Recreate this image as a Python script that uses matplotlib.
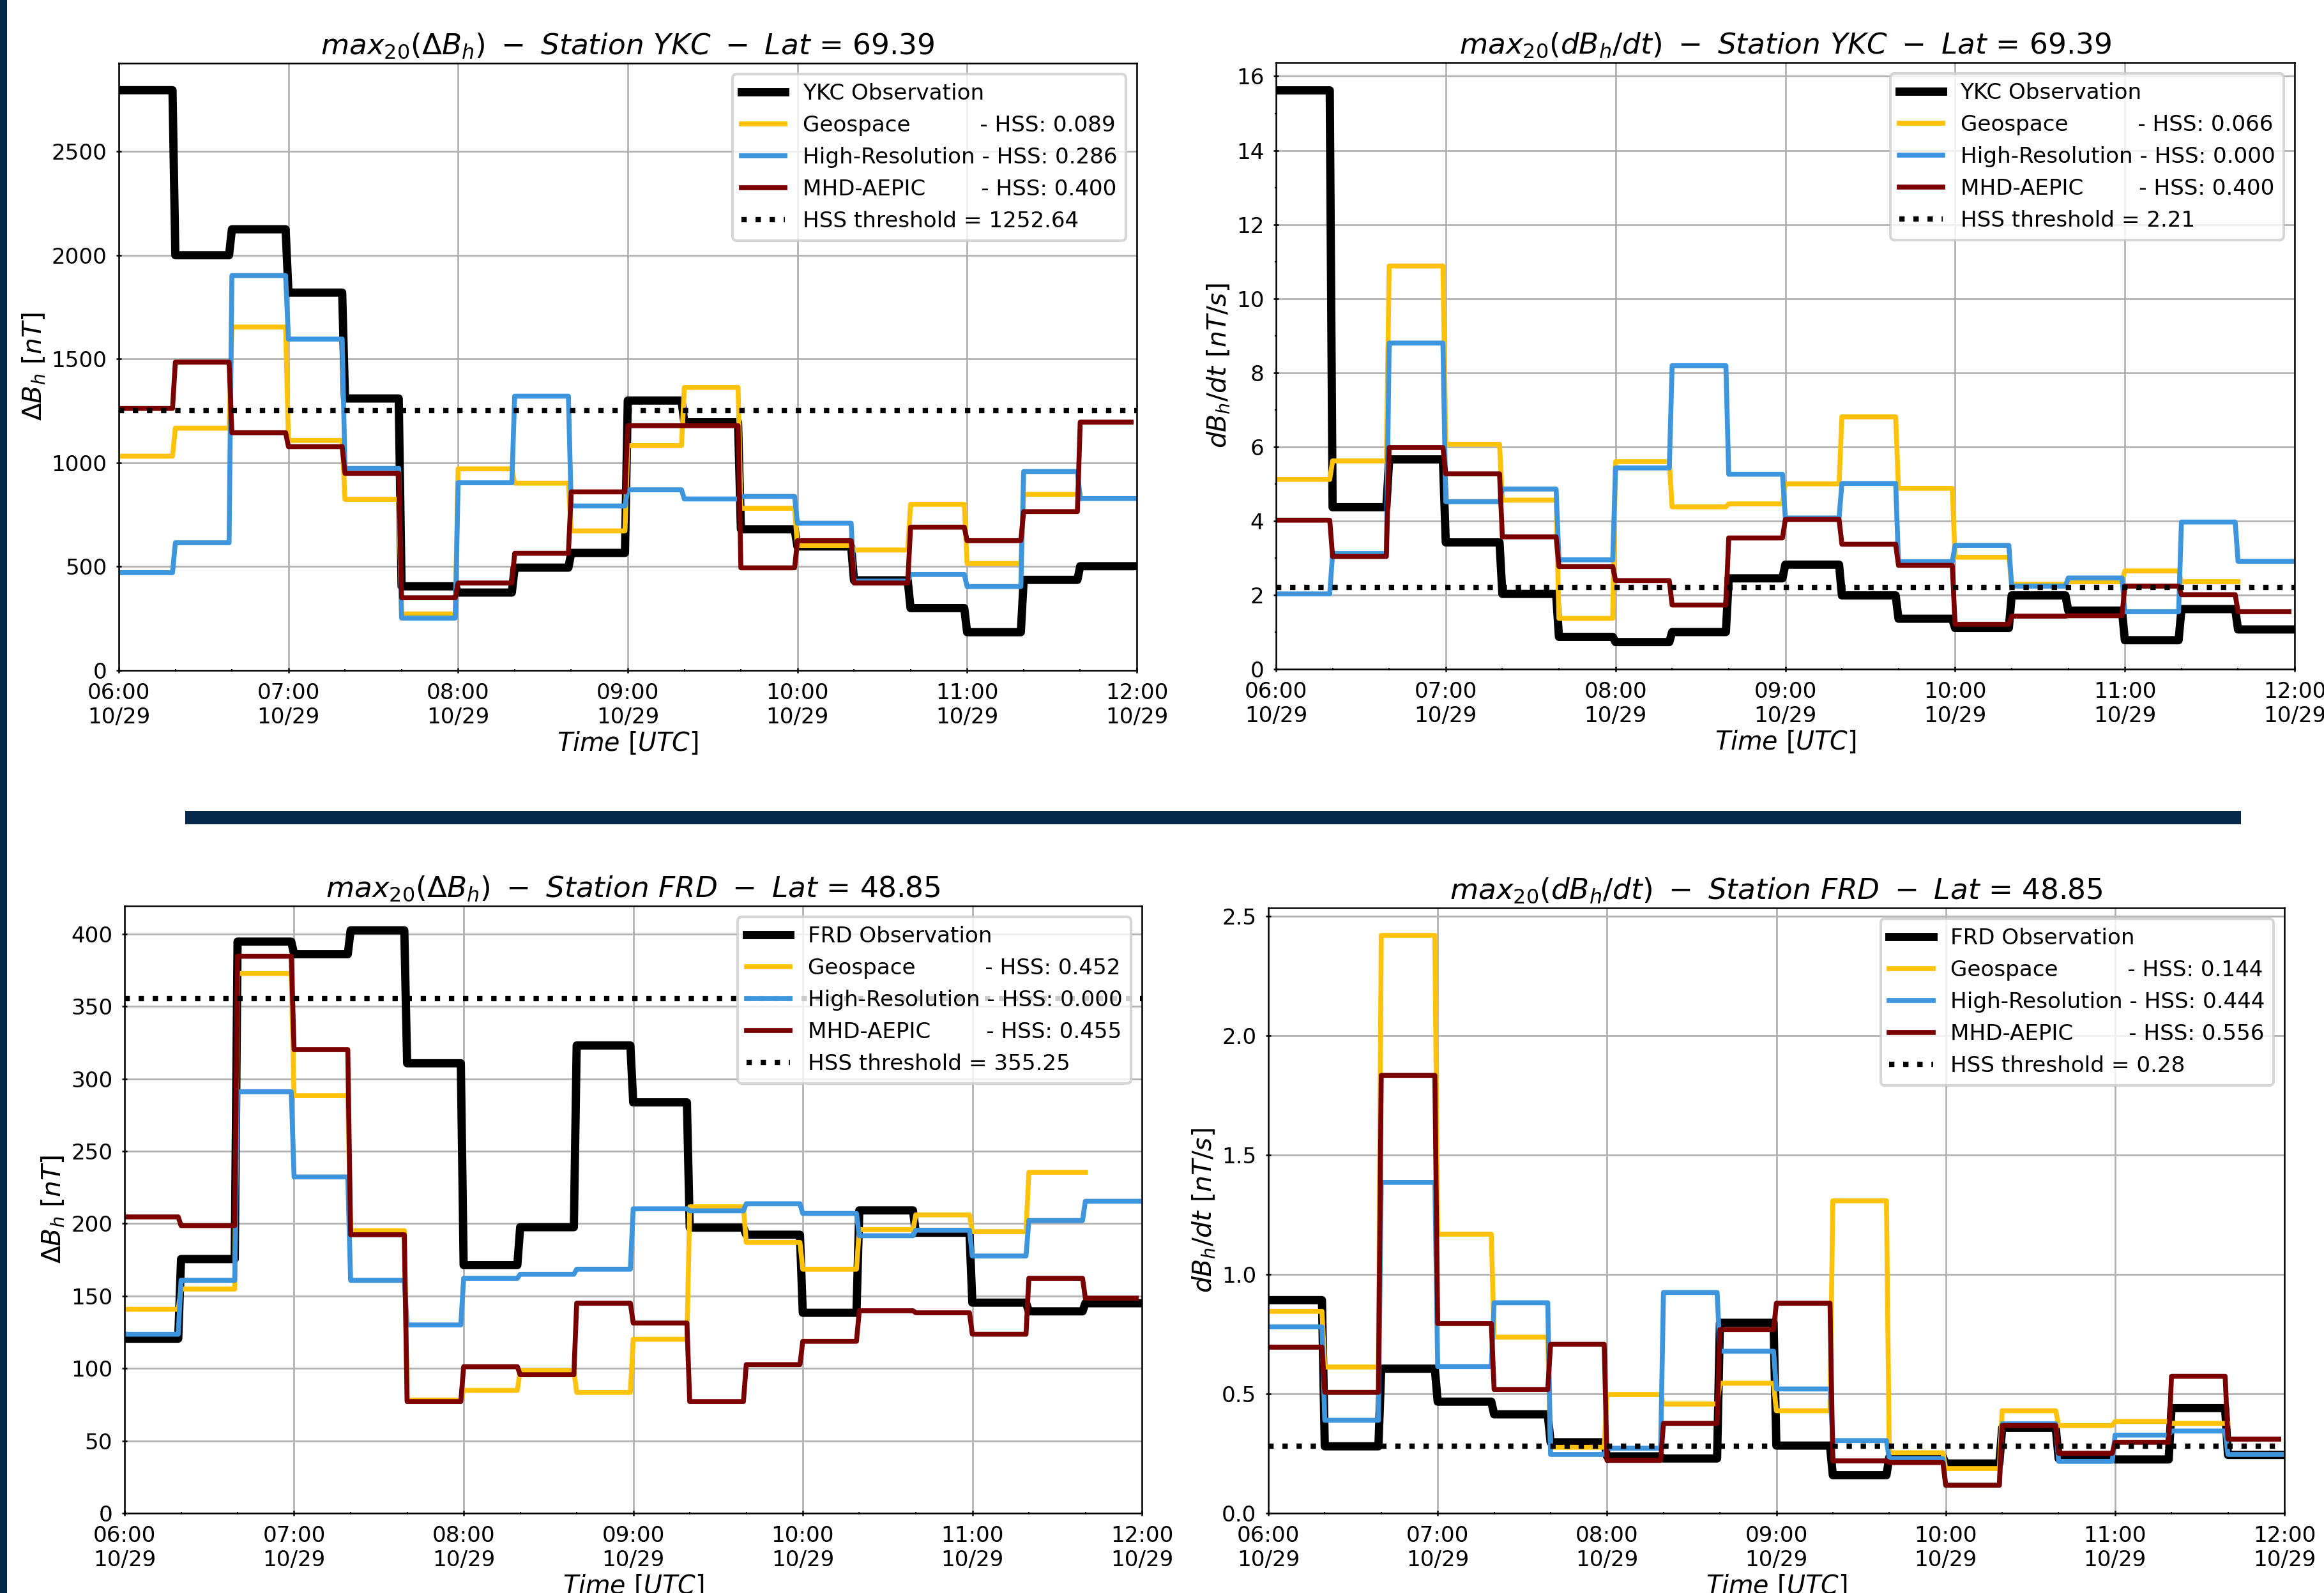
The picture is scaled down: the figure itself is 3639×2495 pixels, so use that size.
import datetime as dt
import matplotlib
matplotlib.use("Agg")
import matplotlib.pyplot as plt
import matplotlib.dates as mdates
from matplotlib.patches import Rectangle
from matplotlib.ticker import MultipleLocator

# ---------------- data (20-minute maxima, 06:00-12:00 UTC, 2003-10-29) ----------------
START = dt.datetime(2003, 10, 29, 6, 0)
STEP_MIN = 20

# Station YKC, max20(dBh)  [nT]
ykc_dbh_obs = [2795, 2000, 2125, 1820, 1310, 405, 375, 495, 566, 1300, 1195, 680, 597, 434, 300, 184, 436, 502]
ykc_dbh_geo = [1032, 1167, 1654, 1108, 824, 272, 971, 902, 672, 1083, 1363, 781, 602, 580, 800, 515, 848]
ykc_dbh_hr = [471, 615, 1902, 1596, 973, 252, 904, 1321, 792, 870, 826, 838, 709, 430, 462, 404, 958, 828]
ykc_dbh_aepic = [1262, 1485, 1145, 1078, 949, 350, 421, 564, 860, 1179, 1179, 494, 625, 421, 690, 625, 765, 1196]
ykc_dbh_thr = 1252.64
ykc_dbh_hss = ["0.089", "0.286", "0.400"]

# Station YKC, max20(dBh/dt)  [nT/s]
ykc_dbdt_obs = [15.62, 4.37, 5.66, 3.42, 2.03, 0.87, 0.73, 1.00, 2.45, 2.82, 1.99, 1.36, 1.11, 1.99, 1.58, 0.78, 1.62, 1.07]
ykc_dbdt_geo = [5.12, 5.62, 10.88, 6.07, 4.56, 1.37, 5.60, 4.38, 4.46, 5.00, 6.81, 4.88, 3.02, 2.29, 2.36, 2.65, 2.36]
ykc_dbdt_hr = [2.03, 3.12, 8.80, 4.52, 4.86, 2.95, 5.43, 8.19, 5.26, 4.08, 5.01, 2.90, 3.34, 2.24, 2.46, 1.55, 3.97, 2.91]
ykc_dbdt_aepic = [4.02, 3.04, 5.98, 5.27, 3.57, 2.77, 2.39, 1.73, 3.54, 4.04, 3.37, 2.80, 1.21, 1.43, 1.44, 2.24, 2.01, 1.55]
ykc_dbdt_thr = 2.21
ykc_dbdt_hss = ["0.066", "0.000", "0.400"]

# Station FRD, max20(dBh)  [nT]
frd_dbh_obs = [120.5, 175.5, 394.7, 386.0, 402.5, 310.7, 171.3, 197.5, 323.0, 283.7, 197.2, 192.3, 138.4, 209.1, 193.7, 145.4, 139.4, 145.0]
frd_dbh_geo = [140.8, 154.8, 372.7, 288.3, 195.1, 78.1, 84.8, 98.4, 83.4, 120.1, 211.6, 187.0, 168.5, 195.8, 206.0, 194.4, 235.4]
frd_dbh_hr = [123.6, 160.8, 291.0, 232.2, 160.8, 130.0, 162.2, 165.0, 168.5, 210.2, 208.8, 213.7, 207.0, 191.6, 195.4, 177.6, 202.1, 215.4]
frd_dbh_aepic = [204.6, 198.6, 384.6, 320.1, 192.3, 77.1, 101.2, 95.6, 145.0, 131.3, 77.1, 102.6, 118.7, 139.8, 138.4, 123.6, 162.2, 148.5]
frd_dbh_thr = 355.25
frd_dbh_hss = ["0.452", "0.000", "0.455"]

# Station FRD, max20(dBh/dt)  [nT/s]
frd_dbdt_obs = [0.892, 0.280, 0.605, 0.467, 0.414, 0.297, 0.238, 0.229, 0.797, 0.283, 0.159, 0.234, 0.208, 0.357, 0.229, 0.225, 0.440, 0.244]
frd_dbdt_geo = [0.845, 0.612, 2.419, 1.168, 0.737, 0.276, 0.497, 0.457, 0.544, 0.429, 1.308, 0.253, 0.187, 0.429, 0.367, 0.384, 0.376]
frd_dbdt_hr = [0.780, 0.389, 1.385, 0.614, 0.881, 0.246, 0.272, 0.924, 0.678, 0.520, 0.304, 0.229, 0.117, 0.374, 0.217, 0.327, 0.344, 0.246]
frd_dbdt_aepic = [0.695, 0.506, 1.833, 0.794, 0.518, 0.707, 0.221, 0.376, 0.769, 0.879, 0.219, 0.212, 0.117, 0.367, 0.251, 0.297, 0.573, 0.310]
frd_dbdt_thr = 0.28
frd_dbdt_hss = ["0.144", "0.444", "0.556"]

# minutes after 06:00 at which each series ends
END_OBS, END_GEO, END_HR, END_AEPIC = 360, 340, 360, 358

model_names = ["Geospace", "High-Resolution", "MHD-AEPIC"]
model_pad = [" " * 10, " ", " " * 8]

# ---------------- styling ----------------
C_OBS = "black"
C_GEO = "#FFC20A"
C_HR = "#3D95DE"
C_AEPIC = "#7A0000"
NAVY = "#03284A"

plt.rcParams["font.family"] = ["DejaVu Sans"]
plt.rcParams["mathtext.fontset"] = "dejavusans"
plt.rcParams["axes.linewidth"] = 0.6

W, H, DPI = 3639, 2495, 300
fig = plt.figure(figsize=(W / DPI, H / DPI), dpi=DPI)
fig.patch.set_facecolor("white")


def add_ax(left, right, top, bottom):
    return fig.add_axes([left / W, 1 - bottom / H, (right - left) / W, (bottom - top) / H])


def step_series(vals, end_min):
    xs, ys = [], []
    n = len(vals)
    for i, v in enumerate(vals):
        s = STEP_MIN * i
        e = end_min if i == n - 1 else STEP_MIN * (i + 1) - 1
        xs += [START + dt.timedelta(minutes=s), START + dt.timedelta(minutes=e)]
        ys += [v, v]
    return xs, ys


def panel(ax, station, lat, obs, geo, hr, aepic, thr, hss, kind, ylim, ymajor, yminor):
    x, y = step_series(obs, END_OBS)
    ax.plot(x, y, color=C_OBS, lw=3.1, label=f"{station} Observation")
    for vals, end, col, name, pad, h in zip([geo, hr, aepic], [END_GEO, END_HR, END_AEPIC],
                                             [C_GEO, C_HR, C_AEPIC], model_names, model_pad, hss):
        x, y = step_series(vals, end)
        ax.plot(x, y, color=col, lw=1.85, label=f"{name}{pad}- HSS: {h}")
    ax.axhline(thr, color="black", ls=":", lw=2.0, label=f"HSS threshold = {thr:.2f}")

    ax.set_xlim(START, START + dt.timedelta(hours=6))
    ax.set_ylim(*ylim)
    ax.xaxis.set_major_locator(mdates.HourLocator())
    ax.xaxis.set_minor_locator(mdates.MinuteLocator(byminute=[20, 40]))
    ax.xaxis.set_major_formatter(mdates.DateFormatter("%H:%M\n%m/%d"))
    ax.yaxis.set_major_locator(MultipleLocator(ymajor))
    if yminor:
        ax.yaxis.set_minor_locator(MultipleLocator(yminor))
    ax.tick_params(which="major", direction="inout", length=2.0, width=0.6, labelsize=8.2)
    ax.tick_params(which="minor", direction="inout", length=1.0, width=0.5)
    ax.grid(True, which="major", color="#b0b0b0", lw=0.65)

    if kind == "dbh":
        ax.set_title(rf"$max_{{20}}(\Delta B_h)\ -\ Station\ {station}\ -\ Lat$ = {lat}",
                     fontsize=10.9, pad=3.5)
        ax.set_ylabel(r"$\Delta B_h\ [nT]$", fontsize=9.8, labelpad=1.5)
    else:
        ax.set_title(rf"$max_{{20}}(dB_h/dt)\ -\ Station\ {station}\ -\ Lat$ = {lat}",
                     fontsize=10.9, pad=3.5)
        ax.set_ylabel(r"$dB_h/dt\ [nT/s]$", fontsize=9.8, labelpad=1.5)
    ax.set_xlabel(r"$Time\ [UTC]$", fontsize=9.5, labelpad=1.0)
    ax.legend(loc="upper right", fontsize=8.2)


ax1 = add_ax(186, 1780, 99, 1050)
ax2 = add_ax(1998, 3593, 98, 1048)
ax3 = add_ax(195, 1788, 1419, 2370)
ax4 = add_ax(1986, 3577, 1422, 2370)

panel(ax1, "YKC", "69.39", ykc_dbh_obs, ykc_dbh_geo, ykc_dbh_hr, ykc_dbh_aepic, ykc_dbh_thr,
      ykc_dbh_hss, "dbh", (0, 2925), 500, None)
panel(ax2, "YKC", "69.39", ykc_dbdt_obs, ykc_dbdt_geo, ykc_dbdt_hr, ykc_dbdt_aepic, ykc_dbdt_thr,
      ykc_dbdt_hss, "dbdt", (0, 16.37), 2, 1)
panel(ax3, "FRD", "48.85", frd_dbh_obs, frd_dbh_geo, frd_dbh_hr, frd_dbh_aepic, frd_dbh_thr,
      frd_dbh_hss, "dbh", (0, 419.3), 50, None)
panel(ax4, "FRD", "48.85", frd_dbdt_obs, frd_dbdt_geo, frd_dbdt_hr, frd_dbdt_aepic, frd_dbdt_thr,
      frd_dbdt_hss, "dbdt", (0, 2.534), 0.5, None)

# slide decorations: left vertical bar and horizontal separator
fig.add_artist(Rectangle((0, 0), 11 / W, 1, transform=fig.transFigure, color=NAVY, lw=0))
fig.add_artist(Rectangle((290 / W, 1 - 1291 / H), (3509 - 290) / W, 21 / H,
                         transform=fig.transFigure, color=NAVY, lw=0))

fig.savefig("out.png", dpi=DPI, facecolor="white")
